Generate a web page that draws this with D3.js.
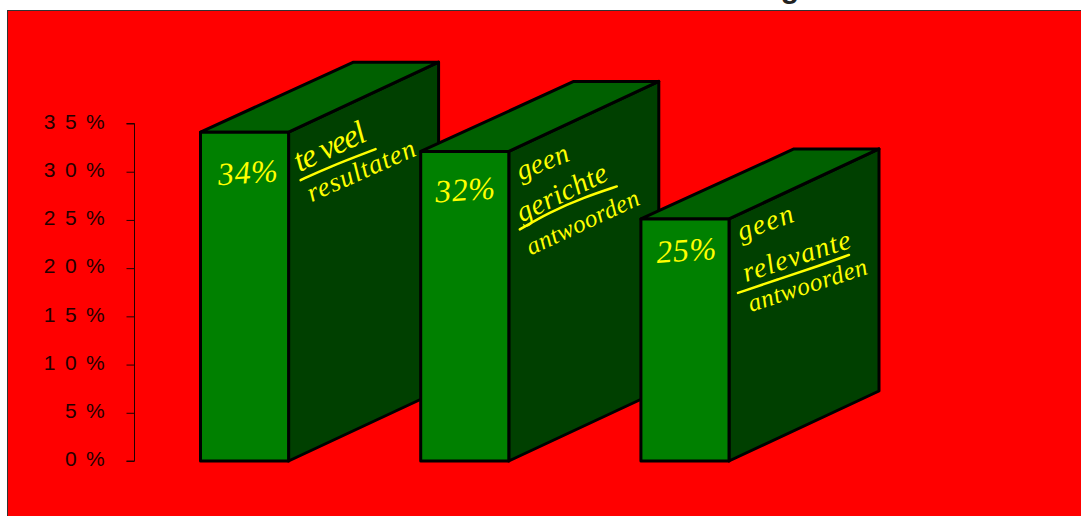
<!DOCTYPE html>
<html>
<head>
<meta charset="utf-8">
<script src="https://d3js.org/d3.v7.min.js"></script>
<style>
  html, body { margin: 0; padding: 0; background: #fff; }
  svg { display: block; }
</style>
</head>
<body>
<svg id="chart" width="1081" height="516"></svg>
<script>
// Complaint categories and their shares, in percent
const categories = ["te veel resultaten", "geen gerichte antwoorden", "geen relevante antwoorden"];
const shares = [34, 32, 25];
const shareLabels = ["34%", "32%", "25%"];
const tickValues = [0, 5, 10, 15, 20, 25, 30, 35];
const tickLabels = ["0 %", "5 %", "1 0 %", "1 5 %", "2 0 %", "2 5 %", "3 0 %", "3 5 %"];

// Handwritten notes on the side faces: words, plus the line drawn between them
const noteWords = [
  ["te veel", "resultaten"],
  ["geen", "gerichte", "antwoorden"],
  ["geen", "relevante", "antwoorden"]
];

const width = 1081, height = 516;
const depthX = 150, depthY = 70;
const ink = "#ffff00";

const svg = d3.select("#chart");

// Panel
svg.append("rect")
  .attr("x", 7.5).attr("y", 10.5)
  .attr("width", width).attr("height", height)
  .attr("fill", "#ff0000")
  .attr("stroke", "#333").attr("stroke-width", 1);

// Descender of the slide heading, which runs off the top of the page
svg.append("text")
  .attr("x", 790).attr("y", -2)
  .attr("text-anchor", "middle")
  .attr("font-family", "Liberation Sans")
  .attr("font-weight", "bold")
  .attr("font-size", 30)
  .attr("fill", "#222")
  .text("g");

const y = d3.scaleLinear().domain([0, 35]).range([461, 123.5]);
const x = d3.scaleBand().domain(categories).range([200.5, 729]).paddingInner(0.6).paddingOuter(0);

// Value axis
const axis = d3.axisLeft(y)
  .tickValues(tickValues)
  .tickSize(8)
  .tickPadding(20)
  .tickFormat((d, i) => tickLabels[i]);

const axisG = svg.append("g").attr("transform", "translate(134.5,0)").call(axis);
axisG.select(".domain").attr("stroke", "#200").attr("d", "M-8,123.5H0V461H-8");
axisG.selectAll(".tick line").attr("stroke", "#200");
axisG.selectAll(".tick text")
  .attr("font-family", "Liberation Sans")
  .attr("font-size", 21)
  .attr("letter-spacing", "1.8px")
  .attr("y", -2)
  .attr("fill", "#200");

// Three-dimensional columns, drawn back to front from the left
const bars = svg.selectAll("g.bar")
  .data(categories.map((c, i) => ({ c, v: shares[i], i })))
  .join("g").attr("class", "bar");

const poly = pts => d3.line()(pts) + "Z";
const frontTop = d => y(d.v) - 1;

function face(sel, fill, getPts) {
  sel.append("path")
    .attr("d", d => poly(getPts(d)))
    .attr("fill", fill)
    .attr("stroke", "#000")
    .attr("stroke-width", 3)
    .attr("stroke-linejoin", "round");
}

// Side face
face(bars, "#004000", d => {
  const r = x(d.c) + x.bandwidth(), t = frontTop(d), b = y(0);
  return [[r, t], [r + depthX, t - depthY], [r + depthX, b - depthY], [r, b]];
});
// Top face
face(bars, "#006000", d => {
  const l = x(d.c), r = l + x.bandwidth(), t = frontTop(d);
  return [[l, t], [l + depthX + 3, t - depthY], [r + depthX, t - depthY], [r, t]];
});
// Front face
face(bars, "#008000", d => {
  const l = x(d.c), r = l + x.bandwidth(), t = frontTop(d), b = y(0);
  return [[l, t], [r, t], [r, b], [l, b]];
});

// Percentages written on the front faces
const scrawl = "Liberation Serif";
const shareNudge = [[48, 50], [45, 48], [46, 41]];
bars.append("text")
  .attr("transform", d => {
    const n = shareNudge[d.i];
    return `translate(${x(d.c) + n[0]},${y(d.v) + n[1]}) rotate(-4)`;
  })
  .attr("text-anchor", "middle")
  .attr("font-family", scrawl)
  .attr("font-style", "italic")
  .attr("font-size", 32)
  .attr("textLength", 60)
  .attr("lengthAdjust", "spacing")
  .attr("fill", ink)
  .text(d => shareLabels[d.i]);

// Placement of the notes relative to each column's front right top corner:
// [start x, start y, length, angle, size] for every word
const wordPlacement = [
  [[11, 39, 76, -25, 33], [23, 69, 116, -24, 27]],
  [[12, 28, 54, -22, 28], [13, 70, 98, -26, 29], [22, 103, 122, -25, 25]],
  [[12, 21, 58, -20, 28], [17, 62, 112, -18, 28], [22, 92, 124, -18, 25]]
];
bars.each(function (d) {
  const corner = [x(d.c) + x.bandwidth(), y(d.v)];
  d3.select(this).selectAll("text.note")
    .data(noteWords[d.i].map((w, j) => ({ w, p: wordPlacement[d.i][j] })))
    .join("text")
    .attr("class", "note")
    .attr("transform", n => `translate(${corner[0] + n.p[0]},${corner[1] + n.p[1]}) rotate(${n.p[3]})`)
    .attr("font-family", scrawl)
    .attr("font-style", "italic")
    .attr("font-size", n => n.p[4])
    .attr("textLength", n => n.p[2])
    .attr("lengthAdjust", "spacing")
    .attr("fill", ink)
    .text(n => n.w);
});

// Pen strokes separating the words, relative to the same corner
const penStrokes = [
  [[12, 47], [40, 34], [87, 16]],
  [[11, 77], [40, 60], [75, 45], [108, 34]],
  [[9, 73], [50, 59], [90, 46], [120, 35]]
];
bars.append("path")
  .attr("d", d => d3.line().curve(d3.curveBasis)(
    penStrokes[d.i].map(p => [x(d.c) + x.bandwidth() + p[0], y(d.v) + p[1]])))
  .attr("fill", "none")
  .attr("stroke", ink)
  .attr("stroke-width", 2.5)
  .attr("stroke-linecap", "round");
</script>
</body>
</html>
